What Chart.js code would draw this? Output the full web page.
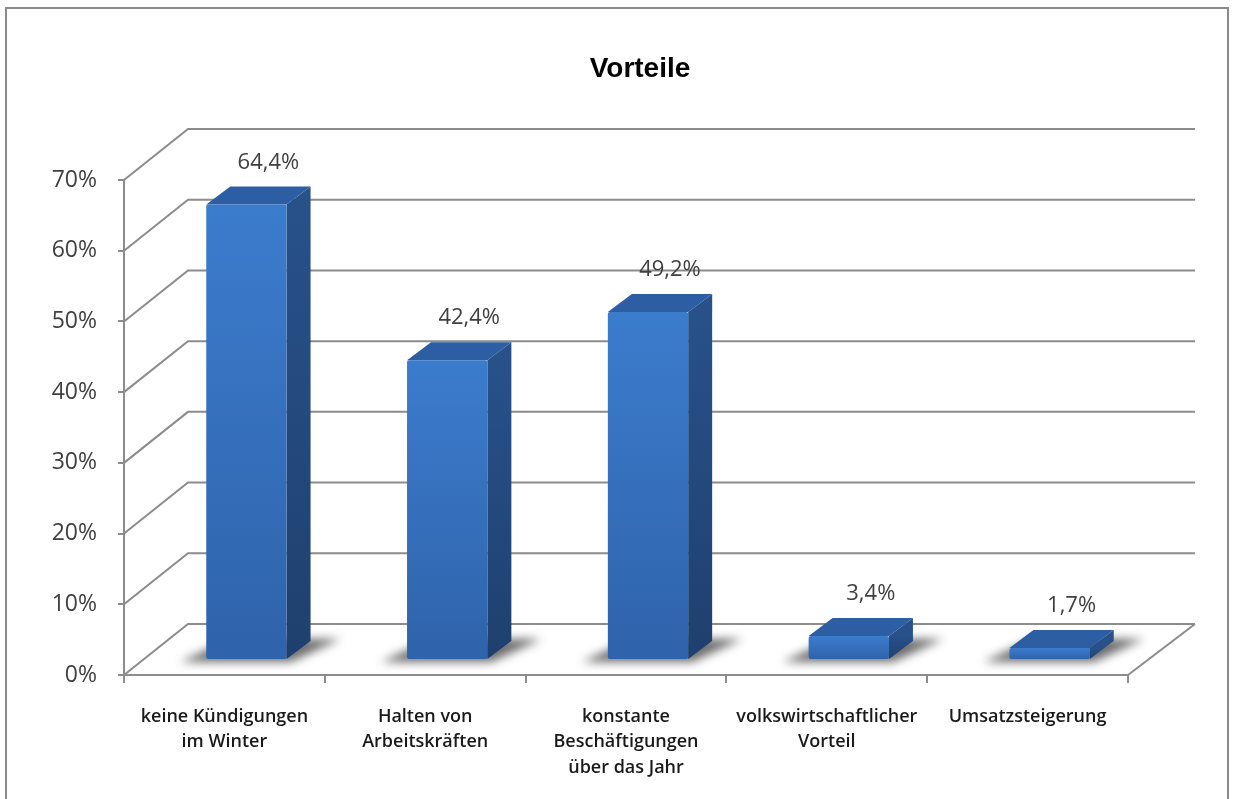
<!DOCTYPE html>
<html><head><meta charset="utf-8">
<script src="https://cdn.jsdelivr.net/npm/chart.js@4.4.1/dist/chart.umd.min.js"></script>
<style>html,body{margin:0;padding:0;background:#fff;} canvas{display:block}</style>
</head><body>
<canvas id="c" width="1234" height="799"></canvas>
<script>
const chartTitle = 'Vorteile';
const categories = [
  ['keine Kündigungen', 'im Winter'],
  ['Halten von', 'Arbeitskräften'],
  ['konstante', 'Beschäftigungen', 'über das Jahr'],
  ['volkswirtschaftlicher', 'Vorteil'],
  ['Umsatzsteigerung']
];
const values = [64.4, 42.4, 49.2, 3.4, 1.7];
const valueLabels = ['64,4%', '42,4%', '49,2%', '3,4%', '1,7%'];
const yMin = 0, yMax = 70, yStep = 10;

// 3D styling offsets
const WALL = { dx: 64, dy: -51, rx: 67 };
const BAR = { sx: 22, sy: -15, dx: 24, dy: -18 };
const GRID = '#8c8c8c';

function poly(ctx, pts) {
  ctx.beginPath();
  pts.forEach((p, i) => i ? ctx.lineTo(p[0], p[1]) : ctx.moveTo(p[0], p[1]));
  ctx.closePath();
}

const frame3d = {
  id: 'frame3d',
  beforeDraw(chart) {
    const ctx = chart.ctx;
    ctx.save();
    ctx.fillStyle = '#fff';
    ctx.fillRect(0, 0, chart.width, chart.height);
    ctx.strokeStyle = '#8a8a8a';
    ctx.lineWidth = 2;
    ctx.strokeRect(6, 8, 1222, chart.height + 10);
    ctx.restore();
  },
  beforeDatasetsDraw(chart) {
    const { ctx, chartArea: a, scales: { y } } = chart;
    ctx.save();
    ctx.strokeStyle = GRID;
    ctx.lineWidth = 2;
    y.ticks.forEach(t => {
      const py = y.getPixelForValue(t.value);
      ctx.beginPath();
      ctx.moveTo(a.left, py);
      ctx.lineTo(a.left + WALL.dx, py + WALL.dy);
      ctx.lineTo(a.right + WALL.rx, py + WALL.dy);
      ctx.stroke();
    });
    const pb = y.getPixelForValue(0);
    ctx.beginPath();
    ctx.moveTo(a.right, pb);
    ctx.lineTo(a.right + WALL.rx, pb + WALL.dy);
    ctx.stroke();
    // floor shadows
    const meta = chart.getDatasetMeta(0);
    meta.data.forEach(el => {
      const p = el.getProps(['x', 'y', 'base', 'width'], true);
      const x0 = p.x - p.width / 2 + BAR.sx, x1 = p.x + p.width / 2 + BAR.sx;
      const yb = p.base + BAR.sy;
      ctx.save();
      ctx.filter = 'blur(5px)';
      ctx.fillStyle = 'rgba(30,30,30,0.65)';
      poly(ctx, [[x0 - 26, yb + 3], [x1 + 4, yb + 3], [x1 + BAR.dx + 30, yb + BAR.dy - 2], [x0 + BAR.dx, yb + BAR.dy - 2]]);
      ctx.fill();
      ctx.restore();
    });
    ctx.restore();
  },
  afterDatasetsDraw(chart) {
    const { ctx } = chart;
    const meta = chart.getDatasetMeta(0);
    ctx.save();
    meta.data.forEach((el, i) => {
      const p = el.getProps(['x', 'y', 'base', 'width'], true);
      const x0 = p.x - p.width / 2 + BAR.sx, x1 = p.x + p.width / 2 + BAR.sx;
      const yt = p.y + BAR.sy, yb = p.base + BAR.sy;
      // side face
      const gs = ctx.createLinearGradient(0, yt, 0, yb);
      gs.addColorStop(0, '#28518a');
      gs.addColorStop(1, '#1f406e');
      ctx.fillStyle = gs;
      poly(ctx, [[x1, yt], [x1 + BAR.dx, yt + BAR.dy], [x1 + BAR.dx, yb + BAR.dy], [x1, yb]]);
      ctx.fill();
      // top face
      ctx.fillStyle = '#2d5ea3';
      poly(ctx, [[x0, yt], [x1, yt], [x1 + BAR.dx, yt + BAR.dy], [x0 + BAR.dx, yt + BAR.dy]]);
      ctx.fill();
      // front face
      const gf = ctx.createLinearGradient(0, yt, 0, yb);
      gf.addColorStop(0, '#3c7ccd');
      gf.addColorStop(1, '#2f63ab');
      ctx.fillStyle = gf;
      ctx.beginPath();
      ctx.roundRect(x0, yt, x1 - x0, yb - yt, 2);
      ctx.fill();
      // value label
      ctx.fillStyle = '#404040';
      ctx.font = '22px "Open Sans"';
      ctx.textAlign = 'center';
      ctx.textBaseline = 'middle';
      ctx.fillText(valueLabels[i], (x0 + x1) / 2 + 22, yt - 42);
    });
    ctx.restore();
  }
};

new Chart(document.getElementById('c'), {
  type: 'bar',
  data: {
    labels: categories,
    datasets: [{
      data: values,
      backgroundColor: 'rgba(0,0,0,0)',
      borderWidth: 0,
      barPercentage: 0.4,
      categoryPercentage: 1
    }]
  },
  options: {
    responsive: false,
    animation: false,
    devicePixelRatio: 1,
    layout: { padding: { left: 46, right: 0, top: 0, bottom: 0 } },
    plugins: {
      legend: { display: false },
      tooltip: { enabled: false },
      title: {
        display: true, text: chartTitle, color: '#000',
        font: { family: 'Liberation Sans', size: 28, weight: 'bold' },
        padding: { top: 52, bottom: 94.4 }
      }
    },
    scales: {
      y: {
        min: yMin, max: yMax,
        ticks: { stepSize: yStep, callback: v => v + '%', color: '#404040',
          font: { family: 'Open Sans', size: 23 }, padding: 21 },
        grid: { drawOnChartArea: false, tickLength: 6, color: GRID, lineWidth: 2 },
        border: { color: GRID, width: 2 },
        afterFit(s) { s.width = 78; }
      },
      yr: {
        position: 'right', min: yMin, max: yMax,
        grid: { display: false }, border: { display: false }, ticks: { display: false },
        afterFit(s) { s.width = 106; }
      },
      x: {
        ticks: { color: '#1a1a1a', font: { family: 'Open Sans', size: 18, weight: '600', lineHeight: 1.42 },
          padding: 21, maxRotation: 0, autoSkip: false },
        grid: { drawOnChartArea: false, tickLength: 8, color: GRID, lineWidth: 2, offset: true },
        border: { color: GRID, width: 2 },
        afterFit(s) { s.height = 124; }
      }
    }
  },
  plugins: [frame3d]
});
</script>
</body></html>
